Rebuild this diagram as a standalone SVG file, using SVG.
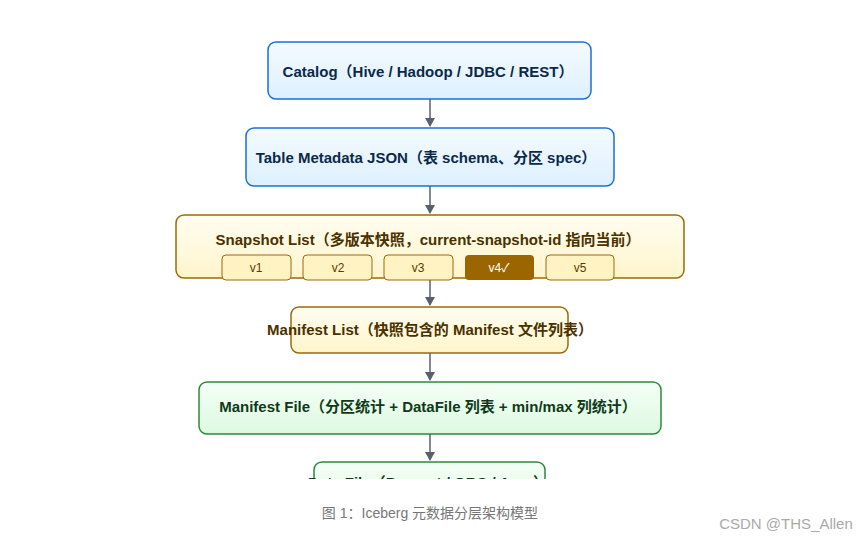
<svg xmlns="http://www.w3.org/2000/svg" width="859" height="539" viewBox="0 0 859 539">
<style>
text{font-family:"Liberation Sans","Noto Sans CJK SC",sans-serif;text-anchor:middle}
.t{font-size:15px;font-weight:bold}
.blue{fill:url(#gb);stroke:#1b6fd8;stroke-width:1.5}
.yel{fill:url(#gy);stroke:#9b6a0a;stroke-width:1.5}
.grn{fill:url(#gg);stroke:#2b8a3e;stroke-width:1.5}
.chip{fill:#fff3c4;stroke:#9b6a0a;stroke-width:1}
.ct{font-size:12px;fill:#5a3d00}
.c{stroke:#5a606b;stroke-width:1.5;fill:none;marker-end:url(#ah)}
</style>
<defs>
<linearGradient id="gb" x1="0" y1="0" x2="0" y2="1"><stop offset="0" stop-color="#f4faff"/><stop offset="1" stop-color="#ddf0ff"/></linearGradient>
<linearGradient id="gy" x1="0" y1="0" x2="0" y2="1"><stop offset="0" stop-color="#fffdf0"/><stop offset="1" stop-color="#fff5cc"/></linearGradient>
<linearGradient id="gg" x1="0" y1="0" x2="0" y2="1"><stop offset="0" stop-color="#f5fff6"/><stop offset="1" stop-color="#dcf9e0"/></linearGradient>
<marker id="ah" markerWidth="10" markerHeight="10" refX="8" refY="5" orient="auto" markerUnits="userSpaceOnUse"><path d="M0,0 L9,5 L0,10 z" fill="#5a606b"/></marker>
<clipPath id="clip"><rect x="0" y="0" width="859" height="479"/></clipPath>
</defs>
<rect width="859" height="539" fill="#fff"/>
<g id="connectors">
<path class="c" d="M430 99 V126"/>
<path class="c" d="M430 186 V213"/>
<path class="c" d="M430 280 V305"/>
<path class="c" d="M430 353 V380"/>
<path class="c" d="M430 434 V460"/>
</g>
<g id="catalog"><rect class="blue" x="268" y="42" width="323" height="57" rx="8"/><text class="t" x="428" y="77" fill="#0b2a4a">Catalog（Hive / Hadoop / JDBC / REST）</text></g>
<g id="metadata"><rect class="blue" x="246" y="128" width="368" height="58" rx="8"/><text class="t" x="426" y="163" fill="#0b2a4a">Table Metadata JSON（表 schema、分区 spec）</text></g>
<g id="snapshot"><rect class="yel" x="176" y="215" width="508" height="63" rx="8"/><text class="t" x="428" y="245" fill="#4a3200">Snapshot List（多版本快照，current-snapshot-id 指向当前）</text>
<rect class="chip" x="222" y="255" width="69" height="25" rx="4"/><text class="ct" x="256" y="272">v1</text>
<rect class="chip" x="303" y="255" width="69" height="25" rx="4"/><text class="ct" x="338" y="272">v2</text>
<rect class="chip" x="384" y="255" width="69" height="25" rx="4"/><text class="ct" x="418" y="272">v3</text>
<rect x="465" y="255" width="69" height="25" rx="4" fill="#9b6500"/><text class="ct" x="499" y="272" style="fill:#fff">v4✓</text>
<rect class="chip" x="546" y="255" width="68" height="25" rx="4"/><text class="ct" x="580" y="272">v5</text></g>
<g id="manifestlist"><rect class="yel" x="291" y="307" width="277" height="46" rx="8"/><text class="t" x="430" y="335" fill="#4a3200">Manifest List（快照包含的 Manifest 文件列表）</text></g>
<g id="manifestfile"><rect class="grn" x="199" y="382" width="462" height="52" rx="8"/><text class="t" x="428" y="412" fill="#0f3a1a">Manifest File（分区统计 + DataFile 列表 + min/max 列统计）</text></g>
<g id="datafile" clip-path="url(#clip)"><rect class="grn" x="314" y="462" width="231" height="50" rx="8"/><text class="t" x="428" y="488" fill="#0f3a1a">Data File（Parquet / ORC / Avro）</text></g>
<text x="430" y="518" font-size="14" fill="#777">图 1：Iceberg 元数据分层架构模型</text>
<text x="786" y="529" font-size="15" fill="#aaa">CSDN @THS_Allen</text>
</svg>
